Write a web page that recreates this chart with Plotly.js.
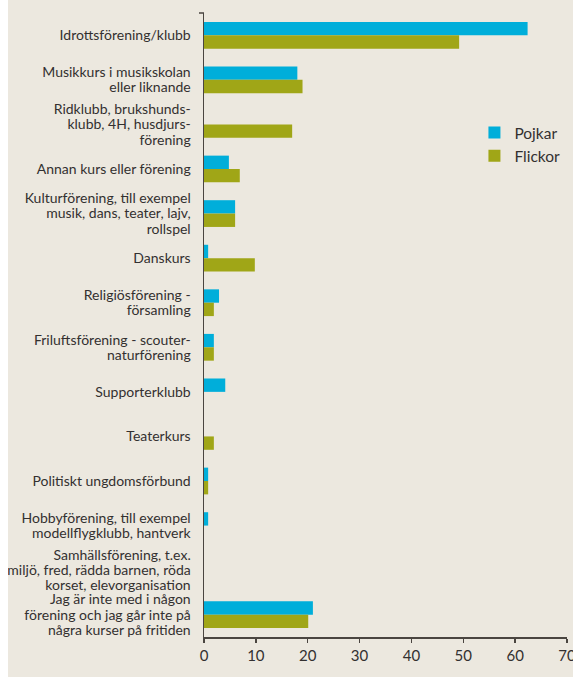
<!DOCTYPE html>
<html>
<head>
<meta charset="utf-8">
<script src="https://cdn.plot.ly/plotly-3.0.1.min.js"></script>
<style>
html,body{margin:0;padding:0;background:#fff;}
#wrap{position:relative;width:573px;height:677px;overflow:hidden;}
#chart{position:absolute;left:0;top:0;width:573px;height:677px;}
#strip{position:absolute;left:0;top:0;width:8px;height:677px;background:#fff;}
</style>
</head>
<body>
<div id="wrap"><div id="chart"></div><div id="strip"></div></div>
<script>
const categories = [
  "Idrottsförening/klubb",
  "Musikkurs i musikskolan<br>eller liknande",
  "Ridklubb, brukshunds-<br>klubb, 4H, husdjurs-<br>förening",
  "Annan kurs eller förening",
  "Kulturförening, till exempel<br>musik, dans, teater, lajv,<br>rollspel",
  "Danskurs",
  "Religiösförening -<br>församling",
  "Friluftsförening - scouter-<br>naturförening",
  "Supporterklubb",
  "Teaterkurs",
  "Politiskt ungdomsförbund",
  "Hobbyförening, till exempel<br>modellflygklubb, hantverk",
  "Samhällsförening, t.ex.<br>miljö, fred, rädda barnen, röda<br>korset, elevorganisation",
  "Jag är inte med i någon<br>förening och jag går inte på<br>några kurser på fritiden"
];
const pojkar = [62.4, 18.0, 0, 4.8, 6.0, 0.8, 2.9, 1.9, 4.1, 0, 0.8, 0.8, 0, 21.0];
const flickor = [49.2, 19.0, 17.0, 6.9, 6.0, 9.8, 1.9, 1.9, 0, 1.9, 0.8, 0, 0, 20.1];
const xTicks = [0, 10, 20, 30, 40, 50, 60, 70];

const FONT = "Lato, 'Open Sans', sans-serif";
const data = [
  {type:'bar', orientation:'h', name:'Pojkar', y:categories, x:pojkar,
   marker:{color:'#00AEDA'}, hoverinfo:'x'},
  {type:'bar', orientation:'h', name:'Flickor', y:categories, x:flickor,
   marker:{color:'#A0A617'}, hoverinfo:'x'}
];
const layout = {
  width:573, height:677,
  paper_bgcolor:'#ECE8DF', plot_bgcolor:'#ECE8DF',
  margin:{l:204, r:6, t:13, b:40, pad:0, autoexpand:false},
  font:{family:FONT, size:14, color:'#333030'},
  barmode:'group', bargap:0.4, bargroupgap:0,
  showlegend:true,
  legend:{x:0.745, y:0.835, xanchor:'left', yanchor:'top', bgcolor:'rgba(0,0,0,0)',
          font:{family:FONT, size:15.5, color:'#333030'}, tracegroupgap:0},
  xaxis:{range:[0,70], tickvals:xTicks, ticktext:xTicks.map(String), showgrid:false, zeroline:false,
         automargin:false, ticklabeloverflow:'allow',
         showline:true, linecolor:'#4a4540', linewidth:1.5,
         ticks:'outside', ticklen:4, tickcolor:'#4a4540', tickwidth:1.5,
         tickfont:{family:FONT, size:15, color:'#333030'}, fixedrange:true},
  yaxis:{type:'category', autorange:'reversed', showgrid:false, zeroline:false,
         automargin:false,
         showline:true, linecolor:'#4a4540', linewidth:1.5,
         ticks:'outside', ticklen:9, tickcolor:'rgba(0,0,0,0)',
         tickfont:{family:FONT, size:14, color:'#333030'}, fixedrange:true},
  shapes:[{type:'line', xref:'paper', yref:'paper', x0:-5/363, x1:0, y0:1, y1:1,
           line:{color:'#4a4540', width:1.5}}]
};
Plotly.newPlot('chart', data, layout, {displayModeBar:false, staticPlot:true}).then(function(gd){
  // tighten line spacing of multi-line category labels (keeps each label centred)
  const K = 1.1, BASE = 1.3;
  gd.querySelectorAll('.ytick text').forEach(function(t){
    const lines = t.querySelectorAll('tspan.line');
    const L = lines.length;
    if (L < 2) return;
    const shift = (L - 1) * (BASE - K) / 2;
    lines.forEach(function(sp, i){ sp.setAttribute('dy', (i * K + shift) + 'em'); });
  });
});
</script>
</body>
</html>
